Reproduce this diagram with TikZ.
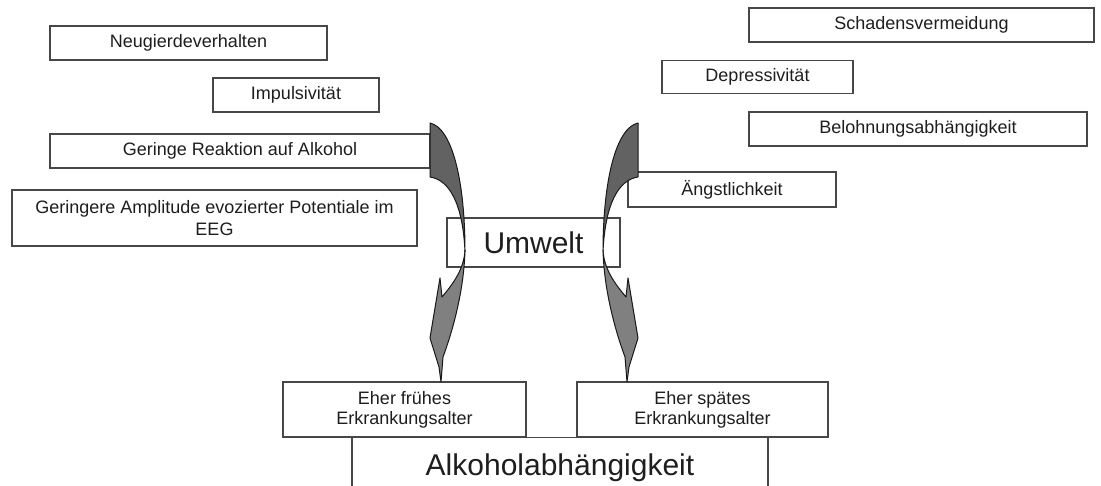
\documentclass[tikz,border=0pt]{standalone}
\usepackage{fontspec}
\setmainfont{Liberation Sans}
\definecolor{arrdark}{RGB}{98,98,98}
\definecolor{arrlight}{RGB}{128,128,128}
\definecolor{txt}{RGB}{30,30,30}
\newcommand\myarrowpaths{%
  \filldraw[arrowline, fill=arrdark] (430,123) .. controls (452,128) and (465,180) .. (465,252)
     .. controls (463,205) and (450,180) .. (430,177) -- cycle;
  \filldraw[arrowline, fill=arrlight] (465,250) .. controls (464,290) and (453,330) .. (443,357)
     -- (441,382) -- (439,367) -- (430,338) -- (440,278) -- (442,297)
     .. controls (452,285) and (464,270) .. (465,250) -- cycle;
}
\begin{document}
\begin{tikzpicture}[x=1pt,y=-1pt,
  box/.style={draw=black!72, line width=1.3pt, fill=white, rectangle, inner sep=0pt,
     font=\fontsize{18}{21}\selectfont, text=txt, align=center},
  bigbox/.style={box, font=\fontsize{30}{34}\selectfont},
  arrowline/.style={draw=black!90, line width=1pt, line join=round}]
\useasboundingbox (0,0) rectangle (1101,486);
\fill[white] (0,0) rectangle (1101,486);
\clip (0,0) rectangle (1101,486);

% left factors
\node[box, minimum width=277pt, minimum height=34pt] (neu) at (188.5,43) {Neugierdeverhalten};
\node[box, minimum width=166pt, minimum height=34pt] (imp) at (296,95) {Impulsivität};
\node[box, minimum width=380pt, minimum height=34pt] (ger) at (240,151) {Geringe Reaktion auf Alkohol};
\node[box, minimum width=405pt, minimum height=56pt, font=\fontsize{18}{22}\selectfont] (amp) at (214.5,218) {Geringere Amplitude evozierter Potentiale im\\EEG};

% right factors
\node[box, minimum width=345pt, minimum height=34pt] (sch) at (921.5,25) {Schadensvermeidung};
\node[box, minimum width=191pt, minimum height=33pt] (dep) at (757.5,77) {Depressivität};
\node[box, minimum width=338pt, minimum height=34pt] (bel) at (918,129) {Belohnungsabhängigkeit};
\node[box, minimum width=208pt, minimum height=35pt] (ang) at (732,189.5) {Ängstlichkeit};

% centre
\node[bigbox, minimum width=173pt, minimum height=49pt] (umw) at (533.5,242.5) {Umwelt};

% outcomes
\node[box, minimum width=416pt, anchor=north, text height=38pt, text depth=45pt, font=\fontsize{30}{34}\selectfont] (alk) at (560,437) {Alkoholabhängigkeit};
\node[box, minimum width=243pt, minimum height=55pt, font=\fontsize{18}{20}\selectfont] (fru) at (404.5,409.5) {Eher frühes\\Erkrankungsalter};
\node[box, minimum width=251pt, minimum height=55pt, font=\fontsize{18}{20}\selectfont] (spa) at (702.5,409.5) {Eher spätes\\Erkrankungsalter};

% curved arrows
\myarrowpaths
\begin{scope}[xshift=1068pt, xscale=-1]
\myarrowpaths
\end{scope}
\end{tikzpicture}
\end{document}
